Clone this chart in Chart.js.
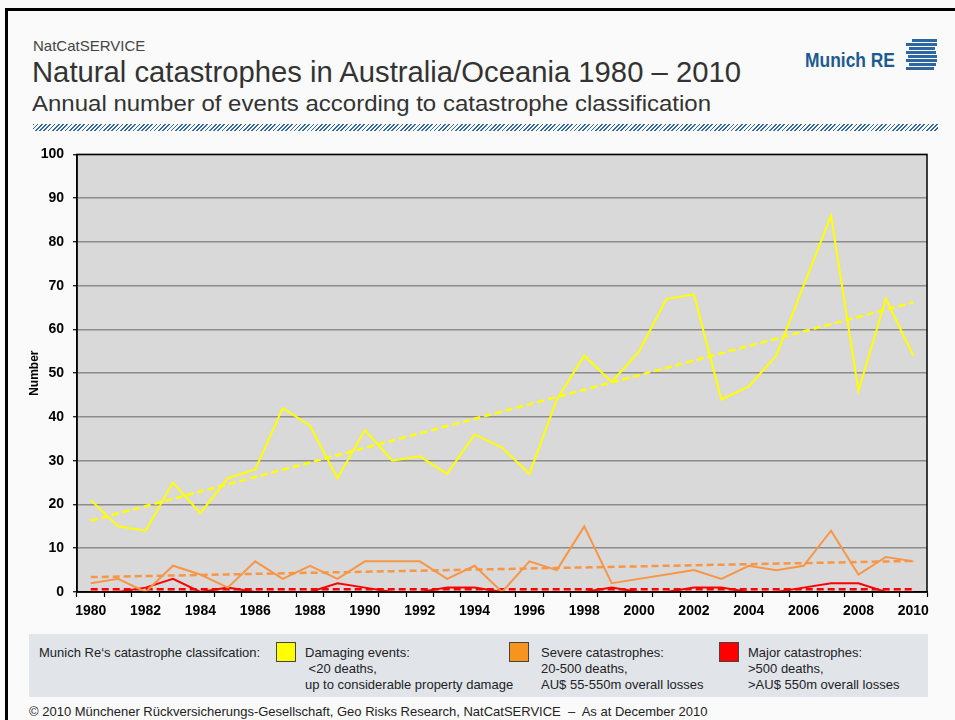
<!DOCTYPE html>
<html>
<head>
<meta charset="utf-8">
<script src="https://cdn.jsdelivr.net/npm/chart.js@4"></script>
<style>
  html, body { margin: 0; padding: 0; overflow: hidden; }
  body { width: 955px; height: 720px; background: #fafafa; position: relative;
         font-family: "Liberation Sans", Arial, sans-serif; color: #333; }
  .frame { position: absolute; left: 5px; top: 8px; width: 950px; height: 712px;
           border-left: 3px solid #000; border-top: 3px solid #000; }
  .txt { position: absolute; white-space: nowrap; transform-origin: 0 0; }
  #kicker { left: 33px; top: 37px; font-size: 15px; color: #444; }
  #title { left: 32px; top: 55px; font-size: 30px; color: #333; }
  #subtitle { left: 32px; top: 91px; font-size: 22px; color: #333; }
  .hatch { position: absolute; left: 33px; top: 124px; width: 905px; height: 7px;
           background: repeating-linear-gradient(135deg, #2f6aa6 0 1.2px, #fafafa 1.2px 3px); }
  #logoText { left: 805px; top: 49px; font-size: 20px; font-weight: bold; color: #1d5a92; }
  .stripe { position: absolute; height: 2.6px; background: #2d66a0; }
  #chartBox { position: absolute; left: 20px; top: 137px; }
  .legend { position: absolute; left: 29px; top: 634px; width: 899px; height: 63px; background: #e1e5ea; }
  .legend .t { position: absolute; font-size: 13px; line-height: 16px; color: #222; white-space: nowrap; }
  .sw { position: absolute; width: 18px; height: 18px; border: 1px solid #444; }
  #footer { left: 29px; top: 704px; font-size: 13px; color: #222; }
</style>
</head>
<body>
<div class="frame"></div>
<div class="txt" id="kicker">NatCatSERVICE</div>
<div class="txt" id="title" data-w="709">Natural catastrophes in Australia/Oceania 1980 – 2010</div>
<div class="txt" id="subtitle" data-w="679">Annual number of events according to catastrophe classification</div>
<div class="hatch"></div>
<div class="txt" id="logoText" data-w="90">Munich RE</div>
<div id="logo"></div>

<div id="chartBox"><canvas id="natcatChart" width="915" height="488"></canvas></div>

<div class="legend">
  <div class="t" style="left:10px; top:11px;">Munich Re‘s catastrophe classifcation:</div>
  <div class="sw" style="left:247px; top:8px; background:#ffff00;"></div>
  <div class="t" style="left:276px; top:11px;">Damaging events:<br>&nbsp;&lt;20 deaths,<br>up to considerable property damage</div>
  <div class="sw" style="left:480px; top:8px; background:#f7941d;"></div>
  <div class="t" style="left:512px; top:11px;">Severe catastrophes:<br>20-500 deaths,<br>AU$ 55-550m overall losses</div>
  <div class="sw" style="left:690px; top:8px; background:#ff0000;"></div>
  <div class="t" style="left:719px; top:11px;">Major catastrophes:<br>&gt;500 deaths,<br>&gt;AU$ 550m overall losses</div>
</div>
<div class="txt" id="footer">© 2010 Münchener Rückversicherungs-Gesellschaft, Geo Risks Research, NatCatSERVICE &nbsp;–&nbsp; As at December 2010</div>

<script>
// Jahre 1980 - 2010
const years = [1980, 1981, 1982, 1983, 1984, 1985, 1986, 1987, 1988, 1989,
               1990, 1991, 1992, 1993, 1994, 1995, 1996, 1997, 1998, 1999,
               2000, 2001, 2002, 2003, 2004, 2005, 2006, 2007, 2008, 2009, 2010];

// Anzahl Ereignisse pro Jahr
const damagingEvents = [21, 15, 14, 25, 18, 26, 28, 42, 38, 26,
                        37, 30, 31, 27, 36, 33, 27, 44, 54, 48,
                        55, 67, 68, 44, 47, 54, 70, 86, 46, 67, 54];
const severeCatastrophes = [2, 3, 0, 6, 4, 1, 7, 3, 6, 3,
                            7, 7, 7, 3, 6, 0, 7, 5, 15, 2,
                            3, 4, 5, 3, 6, 5, 6, 14, 4, 8, 7];
const majorCatastrophes = [0, 0, 1, 3, 0, 1, 0, 0, 0, 2,
                           1, 0, 0, 1, 1, 0, 0, 0, 0, 1,
                           0, 0, 1, 1, 0, 0, 1, 2, 2, 0, 0];

// Trendlinien: Werte am Anfang (1980) und Ende (2010)
const trendDamaging = [16.3, 66.2];
const trendSevere = [3.4, 7.1];
const trendMajor = [0.6, 0.6];

// Achsenbeschriftung
const yTicks = [0, 10, 20, 30, 40, 50, 60, 70, 80, 90, 100];

const colors = { damaging: '#ffff00', severe: '#f79646', major: '#ff0000' };

// Trend als Linie zwischen erstem und letztem Jahr
function trendSeries(ends) {
    return years.map((y, i) => i === 0 ? ends[0] : (i === years.length - 1 ? ends[1] : null));
}

// Titel auf Breite der Vorlage bringen
document.querySelectorAll('.txt[data-w]').forEach(el => {
    const target = parseFloat(el.dataset.w);
    const actual = el.getBoundingClientRect().width;
    el.style.transform = 'scaleX(' + (target / actual) + ')';
});

// Logo-Streifen
const logoRows = [[912, 25], [906, 31], [909, 26], [906, 30], [908, 29], [906, 31], [909, 27], [906, 28]];
const logo = document.getElementById('logo');
logoRows.forEach((r, i) => {
    const d = document.createElement('div');
    d.className = 'stripe';
    d.style.left = r[0] + 'px';
    d.style.width = r[1] + 'px';
    d.style.top = (39 + i * 4) + 'px';
    logo.appendChild(d);
});

// Hintergrund und Rahmen der Zeichenfläche
const plotFrame = {
    id: 'plotFrame',
    beforeDraw(chart) {
        const a = chart.chartArea, ctx = chart.ctx;
        ctx.save();
        ctx.fillStyle = '#d9d9d9';
        ctx.fillRect(a.left, a.top, a.right - a.left, a.bottom - a.top);
        ctx.restore();
    },
    afterDatasetsDraw(chart) {
        const a = chart.ctx, c = chart.chartArea;
        a.save();
        a.strokeStyle = '#000';
        a.lineWidth = 1.5;
        a.strokeRect(c.left, c.top, c.right - c.left, c.bottom - c.top);
        a.restore();
    }
};

const lineDefaults = { fill: false, tension: 0, pointRadius: 0, borderWidth: 2 };
const trendDefaults = { fill: false, tension: 0, pointRadius: 0, borderWidth: 2.5, borderDash: [7, 4], spanGaps: true };

new Chart(document.getElementById('natcatChart'), {
    type: 'line',
    data: {
        labels: years,
        datasets: [
            Object.assign({ label: 'Damaging events', data: damagingEvents, borderColor: colors.damaging }, lineDefaults),
            Object.assign({ label: 'Severe catastrophes', data: severeCatastrophes, borderColor: colors.severe }, lineDefaults),
            Object.assign({ label: 'Major catastrophes', data: majorCatastrophes, borderColor: colors.major }, lineDefaults),
            Object.assign({ label: 'Trend damaging', data: trendSeries(trendDamaging), borderColor: colors.damaging }, trendDefaults),
            Object.assign({ label: 'Trend severe', data: trendSeries(trendSevere), borderColor: colors.severe }, trendDefaults),
            Object.assign({ label: 'Trend major', data: trendSeries(trendMajor), borderColor: colors.major }, trendDefaults)
        ]
    },
    options: {
        responsive: false,
        animation: false,
        layout: { padding: { top: 8, right: 8, bottom: 0, left: 0 } },
        plugins: {
            legend: { display: false },
            tooltip: { enabled: false }
        },
        scales: {
            x: {
                offset: true,
                afterFit(scale) { scale.height = 33; },
                grid: { offset: true, drawOnChartArea: false, tickLength: 5, tickColor: '#000', tickWidth: 1.2 },
                border: { color: '#000', width: 1.5 },
                ticks: {
                    autoSkip: false,
                    maxRotation: 0,
                    padding: 6,
                    color: '#000',
                    font: { family: '"Liberation Sans", Arial', size: 14, weight: 'bold' },
                    callback: (v, i) => i % 2 === 0 ? years[i] : ''
                }
            },
            y: {
                min: yTicks[0],
                max: yTicks[yTicks.length - 1],
                afterFit(scale) { scale.width = 57; },
                afterBuildTicks(scale) { scale.ticks = yTicks.map(v => ({ value: v })); },
                grid: { color: '#8c8c8c', lineWidth: 1.5, tickLength: 4, tickColor: '#000', tickWidth: 1.2 },
                border: { color: '#000', width: 1.5 },
                ticks: {
                    padding: 9,
                    color: '#000',
                    font: { family: '"Liberation Sans", Arial', size: 14, weight: 'bold' }
                },
                title: {
                    display: true,
                    text: 'Number',
                    color: '#000',
                    padding: { top: 7, bottom: 0 },
                    font: { family: '"Liberation Sans", Arial', size: 12, weight: 'bold' }
                }
            }
        }
    },
    plugins: [plotFrame]
});
</script>
</body>
</html>
